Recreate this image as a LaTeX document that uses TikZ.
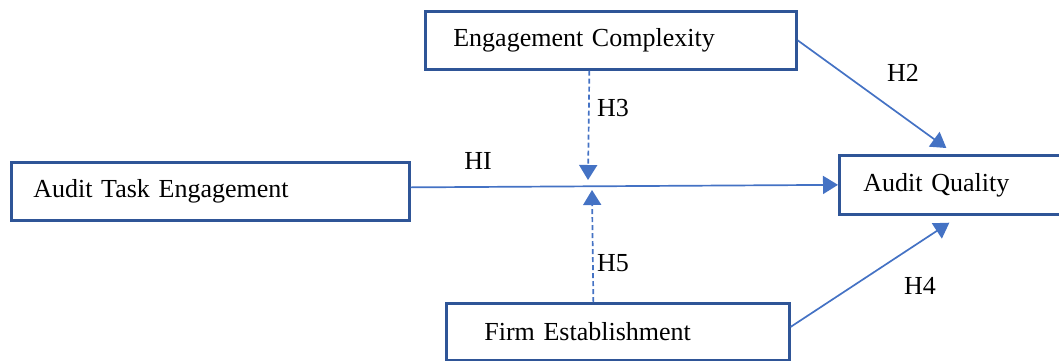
\documentclass[tikz,border=0pt]{standalone}
\usepackage{fontspec}
\setmainfont{Liberation Serif}
\usetikzlibrary{%
  arrows.meta,%
  calc%
}
\definecolor{boxblue}{HTML}{2F5597}
\definecolor{linkblue}{HTML}{4472C4}

\begin{document}
\begin{tikzpicture}[x=0.5pt,y=-0.5pt,
  font=\fontsize{13}{16}\selectfont,
  box/.style={draw=boxblue,line width=1.35pt,anchor=north west,align=left,
    minimum height=29pt,inner ysep=0pt},
  link/.style={draw=linkblue,line width=0.85pt,-{Triangle[length=7.5pt,width=9pt]}},
  dlink/.style={link,dash pattern=on 2.5pt off 1.5pt}]

\useasboundingbox (0,0) rectangle (1059,360);

% the four constructs
\node[box,inner xsep=14pt,text width=157.5pt] (ec) at (424,10) {Engagement Complexity};
\node[box,inner xsep=11pt,text width=177pt] (ate) at (10,161) {Audit Task Engagement};
\node[box,inner xsep=12pt,text width=88pt,minimum height=29.5pt] (aq) at (838,154) {Audit Quality};
\node[box,inner xsep=19pt,text width=133.5pt,minimum height=28.5pt] (fe) at (445,302) {Firm Establishment};

% ends of the moderating arrows
\coordinate (m3) at (588,180);
\coordinate (m5) at (592,190);

\draw[link] ([yshift=2pt]ate.east) -- (aq.west);
\draw[link] (ec.east) -- ([xshift=-2.5pt,yshift=3pt]aq.north);
\draw[link] ([yshift=2.5pt]fe.east) -- ([xshift=-1pt,yshift=-3.5pt]aq.south);
\draw[dlink] ([xshift=-10.75pt]ec.south) -- (m3);
\draw[dlink] ([xshift=-12.25pt]fe.north) -- (m5);

% hypothesis labels
\foreach \h/\x/\y in {HI/478/161,H2/903/73,H3/613/108,H4/920/286,H5/613/263}
  \node (l\h) at (\x,\y) {\h};

\end{tikzpicture}
\end{document}
